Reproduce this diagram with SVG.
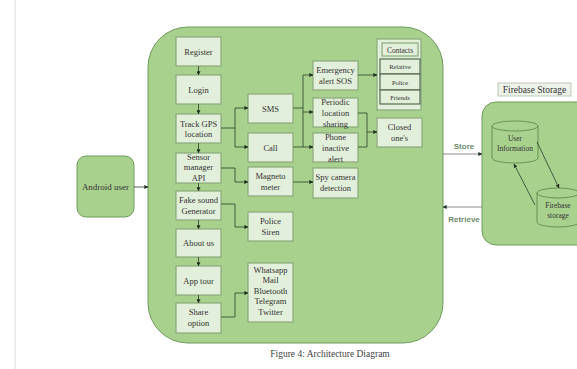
<svg xmlns="http://www.w3.org/2000/svg" width="577" height="369" viewBox="0 0 577 369">
<defs>
<marker id="ah" viewBox="0 0 6 6" refX="5.5" refY="3" markerWidth="4" markerHeight="4" markerUnits="userSpaceOnUse" orient="auto">
<path d="M0,0 L6,3 L0,6 z" fill="#1f331f"/>
</marker>
<style>
.bg{fill:#a9d18e;stroke:#6f9a5c;stroke-width:1}
.bx{fill:#e2efda;stroke:#8aa87c;stroke-width:1.2}
.cy{fill:#a9d18e;stroke:#5f8a4f;stroke-width:0.9}
.t{font-family:"Liberation Serif","Times New Roman",serif;font-size:8.5px;fill:#333;text-anchor:middle}
.s{font-size:6.5px}
.c{fill:none;stroke:#2a3f2a;stroke-width:0.8}
.lbl{font-family:"Liberation Sans",Arial,sans-serif;font-size:8px;font-weight:bold;fill:#6d8b6d;text-anchor:middle}
</style>
</defs>
<rect width="577" height="369" fill="#ffffff"/>
<line x1="15" y1="0" x2="15" y2="369" stroke="#e6e6e6" stroke-width="1.5"/>

<g id="main-container"><rect class="bg" x="148" y="27" width="295" height="316" rx="40"/></g>
<g id="firebase-container"><rect class="bg" x="482" y="102" width="110" height="143" rx="14"/></g>
<g id="firebase-title"><rect x="498" y="83" width="73" height="13" fill="#eef3ea" stroke="#bfc8ba" stroke-width="1"/><text class="t" x="534.5" y="93" style="font-size:9.5px">Firebase Storage</text></g>

<g id="android-user"><rect class="bg" x="77" y="156" width="57" height="61" rx="9"/><text class="t" x="105.5" y="190" style="font-size:9px">Android user</text></g>

<g id="register"><rect class="bx" x="176" y="37" width="45" height="29"/><text class="t" x="198.5" y="54.5">Register</text></g>
<g id="login"><rect class="bx" x="176" y="75" width="45" height="29"/><text class="t" x="198.5" y="92.5">Login</text></g>
<g id="track-gps"><rect class="bx" x="176" y="114" width="45" height="29"/><text class="t" x="198.5" y="126.5">Track GPS</text><text class="t" x="198.5" y="137">location</text></g>
<g id="sensor"><rect class="bx" x="176" y="153" width="45" height="30"/><text class="t" x="198.5" y="159.5">Sensor</text><text class="t" x="198.5" y="170">manager</text><text class="t" x="198.5" y="180.5">API</text></g>
<g id="fake-sound"><rect class="bx" x="176" y="191" width="45" height="29"/><text class="t" x="198.5" y="203">Fake sound</text><text class="t" x="198.5" y="214">Generator</text></g>
<g id="about-us"><rect class="bx" x="176" y="229" width="45" height="28"/><text class="t" x="198.5" y="246">About us</text></g>
<g id="app-tour"><rect class="bx" x="176" y="266" width="45" height="29"/><text class="t" x="198.5" y="283.5">App tour</text></g>
<g id="share-option"><rect class="bx" x="176" y="303" width="45" height="30"/><text class="t" x="198.5" y="315">Share</text><text class="t" x="198.5" y="326">option</text></g>

<g id="sms"><rect class="bx" x="248" y="94" width="45" height="29"/><text class="t" x="270.5" y="111.5">SMS</text></g>
<g id="call"><rect class="bx" x="248" y="133" width="45" height="29"/><text class="t" x="270.5" y="150.5">Call</text></g>
<g id="magneto"><rect class="bx" x="248" y="167" width="45" height="29"/><text class="t" x="270.5" y="179">Magneto</text><text class="t" x="270.5" y="190">meter</text></g>
<g id="police-siren"><rect class="bx" x="248" y="212" width="45" height="29"/><text class="t" x="270.5" y="224">Police</text><text class="t" x="270.5" y="235">Siren</text></g>
<g id="share-apps"><rect class="bx" x="248" y="263" width="45" height="59"/><text class="t" x="270.5" y="272.5">Whatsapp</text><text class="t" x="270.5" y="283">Mail</text><text class="t" x="270.5" y="293.5">Bluetooth</text><text class="t" x="270.5" y="304">Telegram</text><text class="t" x="270.5" y="314.5">Twitter</text></g>

<g id="emergency"><rect class="bx" x="313" y="61" width="45" height="29"/><text class="t" x="335.5" y="73">Emergency</text><text class="t" x="335.5" y="84">alert SOS</text></g>
<g id="periodic"><rect class="bx" x="313" y="98" width="45" height="29"/><text class="t" x="335.5" y="104.5">Periodic</text><text class="t" x="335.5" y="115.5">location</text><text class="t" x="335.5" y="126.5">sharing</text></g>
<g id="phone-inactive"><rect class="bx" x="313" y="133" width="45" height="29"/><text class="t" x="335.5" y="139.5">Phone</text><text class="t" x="335.5" y="150.5">inactive</text><text class="t" x="335.5" y="161.5">alert</text></g>
<g id="spy-camera"><rect class="bx" x="313" y="168" width="45" height="30"/><text class="t" x="335.5" y="180">Spy camera</text><text class="t" x="335.5" y="191">detection</text></g>

<g id="contacts"><rect class="bx" x="377" y="39" width="44" height="71"/>
<rect class="bx" x="382" y="43" width="36" height="13"/><text class="t" x="400" y="52.5" style="font-size:7.5px">Contacts</text>
<rect class="bx" x="380" y="59" width="40" height="15" style="stroke:#566b50"/><text class="t s" x="400" y="69">Relative</text>
<rect class="bx" x="380" y="74" width="40" height="16" style="stroke:#566b50"/><text class="t s" x="400" y="84.5">Police</text>
<rect class="bx" x="380" y="90" width="40" height="14" style="stroke:#566b50"/><text class="t s" x="400" y="99.5">Friends</text></g>
<g id="closed-ones"><rect class="bx" x="377" y="118" width="45" height="29"/><text class="t" x="399.5" y="130">Closed</text><text class="t" x="399.5" y="141">one's</text></g>

<g id="user-information"><path class="cy" d="M492,126 A23,5 0 0 1 538,126 L538,158 A23,5 0 0 1 492,158 Z"/><path d="M492,126 A23,5 0 0 0 538,126" fill="none" stroke="#5f8a4f" stroke-width="0.9"/><text class="t" x="515" y="141" style="font-size:7.5px">User</text><text class="t" x="515" y="151" style="font-size:7.5px">Information</text></g>
<g id="firebase-storage"><path class="cy" d="M537,193 A21,5 0 0 1 579,193 L579,222 A21,5 0 0 1 537,222 Z"/><path d="M537,193 A21,5 0 0 0 579,193" fill="none" stroke="#5f8a4f" stroke-width="0.9"/><text class="t" x="558" y="208" style="font-size:7.5px">Firebase</text><text class="t" x="558" y="218" style="font-size:7.5px">storage</text></g>

<g id="store-label"><text class="lbl" x="464" y="149">Store</text></g>
<g id="retrieve-label"><text class="lbl" x="464" y="222">Retrieve</text></g>

<g id="caption"><text class="t" x="330" y="357" style="font-size:9.5px;fill:#444">Figure 4: Architecture Diagram</text></g>

<g id="connectors">
<path class="c" d="M134,187 H148" marker-end="url(#ah)"/>
<path class="c" d="M198.5,66 V75" marker-end="url(#ah)"/>
<path class="c" d="M198.5,104 V114" marker-end="url(#ah)"/>
<path class="c" d="M198.5,143 V153" marker-end="url(#ah)"/>
<path class="c" d="M198.5,183 V191" marker-end="url(#ah)"/>
<path class="c" d="M198.5,220 V229" marker-end="url(#ah)"/>
<path class="c" d="M198.5,257 V266" marker-end="url(#ah)"/>
<path class="c" d="M198.5,295 V303" marker-end="url(#ah)"/>
<path class="c" d="M221,128 H235 V108 H248" marker-end="url(#ah)"/>
<path class="c" d="M235,128 V147 H248" marker-end="url(#ah)"/>
<path class="c" d="M221,168 H235 V182 H248" marker-end="url(#ah)"/>
<path class="c" d="M221,204 H235 V227 H248" marker-end="url(#ah)"/>
<path class="c" d="M221,317 H235 V293 H248" marker-end="url(#ah)"/>
<path class="c" d="M293,108 H303"/>
<path class="c" d="M303,147 V75 H313" marker-end="url(#ah)"/>
<path class="c" d="M303,112 H313" marker-end="url(#ah)"/>
<path class="c" d="M293,147 H313" marker-end="url(#ah)"/>
<path class="c" d="M293,182 H313" marker-end="url(#ah)"/>
<path class="c" d="M358,75 H377" marker-end="url(#ah)"/>
<path class="c" d="M358,113 H367 V147 H358"/>
<path class="c" d="M367,132 H377" marker-end="url(#ah)"/>
<path class="c" d="M443,154 H482" marker-end="url(#ah)" style="stroke:#6e6e6e"/>
<path class="c" d="M482,207 H443" marker-end="url(#ah)" style="stroke:#6e6e6e"/>
<path class="c" d="M537,142 L559,188" marker-end="url(#ah)"/>
<path class="c" d="M535,205 L514,164" marker-end="url(#ah)"/>
</g>
</svg>
